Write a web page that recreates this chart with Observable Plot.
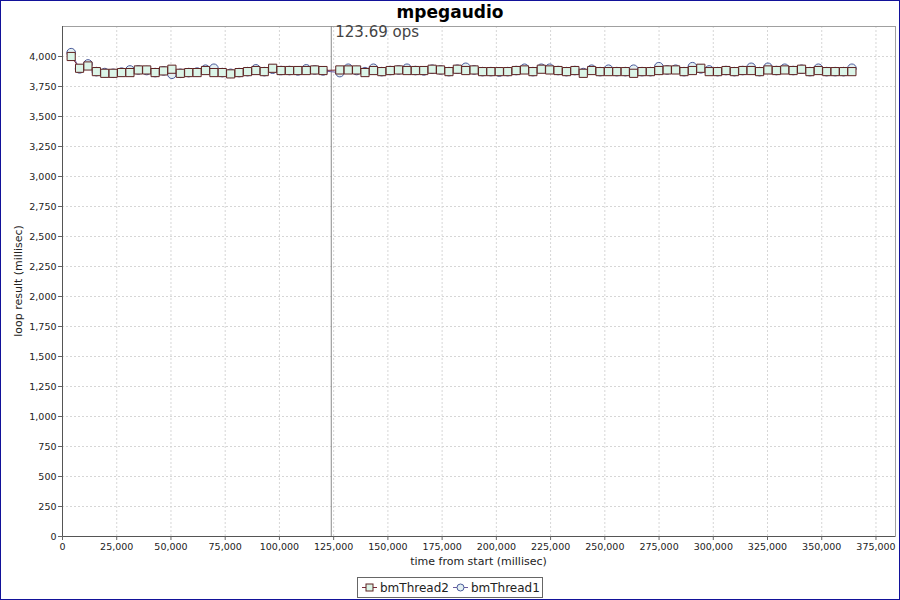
<!DOCTYPE html>
<html>
<head>
<meta charset="utf-8">
<script src="https://cdn.jsdelivr.net/npm/d3@7"></script>
<script src="https://cdn.jsdelivr.net/npm/@observablehq/plot@0.6"></script>
<style>
  body { margin: 0; background: #fff; }
  #wrap { position: relative; width: 900px; height: 600px; overflow: hidden; font-family: "DejaVu Sans", sans-serif; background: #fff; }
  #border { position: absolute; left: 0; top: 0; width: 900px; height: 600px; box-sizing: border-box; border: 1px solid #12129a; pointer-events: none; }
  #title { position: absolute; top: 2px; left: 0; width: 900px; text-align: center; font-weight: bold; font-size: 17px; color: #000; }
  #chart { position: absolute; left: 0; top: 0; }
  #xlabel { position: absolute; top: 555px; left: 62px; width: 833px; text-align: center; font-size: 11px; color: #222; }
  #ylabel { position: absolute; left: 18px; top: 281px; transform: translate(-50%, -50%) rotate(-90deg); font-size: 11px; color: #222; white-space: nowrap; }
  #legend { position: absolute; left: 357px; top: 577px; height: 19px; box-sizing: content-box; border: 1px solid #666; display: flex; align-items: center; padding: 0 2px 0 4px; font-size: 12px; color: #222; white-space: nowrap; }
  #legend .item { display: flex; align-items: center; margin-right: 4px; }
  #legend .item:last-child { margin-right: 0; }
  #legend svg { margin-right: 3px; }
</style>
</head>
<body>
<div id="wrap">
  <div id="title"></div>
  <div id="chart"></div>
  <div id="xlabel"></div>
  <div id="ylabel"></div>
  <div id="legend"></div>
  <div id="border"></div>
</div>
<script>
const chartTitle = "mpegaudio";
const xAxisLabel = "time from start (millisec)";
const yAxisLabel = "loop result (millisec)";
const seriesNames = ["bmThread2", "bmThread1"];
const markerX = 123900;
const markerLabel = "123.69 ops";

const times = [
  4000, 7870, 11740, 15610, 19480, 23350, 27220, 31090, 34960, 38830,
  42700, 46570, 50440, 54310, 58180, 62050, 65920, 69790, 73660, 77530,
  81400, 85270, 89140, 93010, 96880, 100750, 104620, 108490, 112360, 116230,
  120100, 127840, 131710, 135580, 139450, 143320, 147190, 151060, 154930, 158800,
  162670, 166540, 170410, 174280, 178150, 182020, 185890, 189760, 193630, 197500,
  201370, 205240, 209110, 212980, 216850, 220720, 224590, 228460, 232330, 236200,
  240070, 243940, 247810, 251680, 255550, 259420, 263290, 267160, 271030, 274900,
  278770, 282640, 286510, 290380, 294250, 298120, 301990, 305860, 309730, 313600,
  317470, 321340, 325210, 329080, 332950, 336820, 340690, 344560, 348430, 352300,
  356170, 360040, 363910
];

const bmThread2 = [
  4000, 3902, 3921, 3874, 3860, 3860, 3866, 3866, 3888, 3888,
  3866, 3880, 3894, 3860, 3866, 3866, 3883, 3866, 3866, 3855,
  3866, 3874, 3883, 3874, 3902, 3883, 3883, 3883, 3883, 3888,
  3883, 3888, 3888, 3888, 3866, 3883, 3874, 3883, 3888, 3883,
  3883, 3883, 3894, 3888, 3874, 3894, 3883, 3888, 3874, 3874,
  3874, 3874, 3883, 3888, 3874, 3894, 3888, 3883, 3874, 3883,
  3860, 3883, 3874, 3874, 3874, 3874, 3860, 3874, 3874, 3883,
  3888, 3888, 3874, 3883, 3902, 3874, 3874, 3883, 3874, 3883,
  3883, 3874, 3888, 3883, 3888, 3883, 3894, 3874, 3883, 3874,
  3874, 3874, 3874
];

const bmThread1 = [
  4032, 3897, 3938, 3874, 3866, 3860, 3870, 3888, 3888, 3883,
  3866, 3880, 3852, 3860, 3866, 3870, 3894, 3902, 3866, 3860,
  3866, 3874, 3897, 3874, 3894, 3883, 3883, 3880, 3897, 3888,
  3880, 3866, 3902, 3883, 3874, 3902, 3874, 3883, 3888, 3902,
  3883, 3880, 3894, 3888, 3874, 3894, 3910, 3888, 3874, 3874,
  3870, 3874, 3883, 3902, 3874, 3902, 3902, 3883, 3874, 3883,
  3866, 3894, 3874, 3894, 3874, 3874, 3894, 3874, 3874, 3915,
  3888, 3894, 3874, 3915, 3897, 3888, 3874, 3883, 3874, 3883,
  3910, 3874, 3910, 3883, 3902, 3883, 3894, 3874, 3902, 3874,
  3874, 3874, 3902
];

const xTicks = [0, 25000, 50000, 75000, 100000, 125000, 150000, 175000, 200000, 225000, 250000, 275000, 300000, 325000, 350000, 375000];
const yTicks = [0, 250, 500, 750, 1000, 1250, 1500, 1750, 2000, 2250, 2500, 2750, 3000, 3250, 3500, 3750, 4000];
const xDomain = [0, 384000];
const yDomain = [0, 4250];

const colors = {
  t2Stroke: "#5e2222", t2Fill: "#dcf5e8", t2Line: "#7a2a3a",
  t1Stroke: "#4a5a9a", t1Fill: "#e4f0f2", t1Line: "#6a5aa0"
};

const data = times.map((t, i) => ({ t, v2: bmThread2[i], v1: bmThread1[i] }));
const fmt = d3.format(",");

const chart = Plot.plot({
  width: 900,
  height: 575,
  marginLeft: 62,
  marginRight: 5,
  marginTop: 26,
  marginBottom: 39,
  style: { fontFamily: "DejaVu Sans, sans-serif", fontSize: "9.5px", color: "#333", background: "transparent" },
  x: { domain: xDomain },
  y: { domain: yDomain },
  marks: [
    Plot.gridX(xTicks, { stroke: "#d6d6d6", strokeOpacity: 1, strokeDasharray: "2,2" }),
    Plot.gridY(yTicks, { stroke: "#d6d6d6", strokeOpacity: 1, strokeDasharray: "2,2" }),
    Plot.frame({ stroke: "#a0a0a0" }),
    Plot.ruleY([0], { stroke: "#555" }),
    Plot.ruleX([0], { stroke: "#555" }),
    Plot.axisX(xTicks, { tickSize: 4, tickPadding: 3, tickFormat: fmt, label: null, stroke: "#666", fill: "#222" }),
    Plot.axisY(yTicks, { tickSize: 4, tickPadding: 2, tickFormat: fmt, label: null, stroke: "#666", fill: "#222" }),
    Plot.ruleX([markerX], { stroke: "#8a8a8a" }),
    Plot.text([{ x: markerX, y: yDomain[1], label: markerLabel }], { x: "x", y: "y", text: "label", textAnchor: "start", lineAnchor: "top", dx: 4, dy: 0, fontSize: 15, fill: "#444" }),
    Plot.line(data, { x: "t", y: "v1", stroke: colors.t1Line, strokeWidth: 1 }),
    Plot.line(data, { x: "t", y: "v2", stroke: colors.t2Line, strokeWidth: 1 }),
    Plot.dot(data, { x: "t", y: "v1", symbol: "circle", r: 4.3, fill: colors.t1Fill, stroke: colors.t1Stroke, strokeWidth: 1 }),
    Plot.dot(data, { x: "t", y: "v2", symbol: "square", r: 4.6, fill: colors.t2Fill, stroke: colors.t2Stroke, strokeWidth: 1 })
  ]
});
document.getElementById("chart").appendChild(chart);
document.getElementById("title").textContent = chartTitle;
document.getElementById("xlabel").textContent = xAxisLabel;
document.getElementById("ylabel").textContent = yAxisLabel;

// Legend
const legend = document.getElementById("legend");
const glyphs = [
  { line: colors.t2Line, shape: "square", fill: colors.t2Fill, stroke: colors.t2Stroke },
  { line: colors.t1Line, shape: "circle", fill: colors.t1Fill, stroke: colors.t1Stroke }
];
seriesNames.forEach((name, i) => {
  const g = glyphs[i];
  const item = document.createElement("span");
  item.className = "item";
  const shape = g.shape === "square"
    ? `<rect x="4" y="2" width="7" height="7" fill="${g.fill}" stroke="${g.stroke}"/>`
    : `<circle cx="7.5" cy="5.5" r="3.5" fill="${g.fill}" stroke="${g.stroke}"/>`;
  item.innerHTML = `<svg width="15" height="11"><line x1="0" x2="15" y1="5.5" y2="5.5" stroke="${g.line}"/>${shape}</svg><span>${name}</span>`;
  legend.appendChild(item);
});
</script>
</body>
</html>
